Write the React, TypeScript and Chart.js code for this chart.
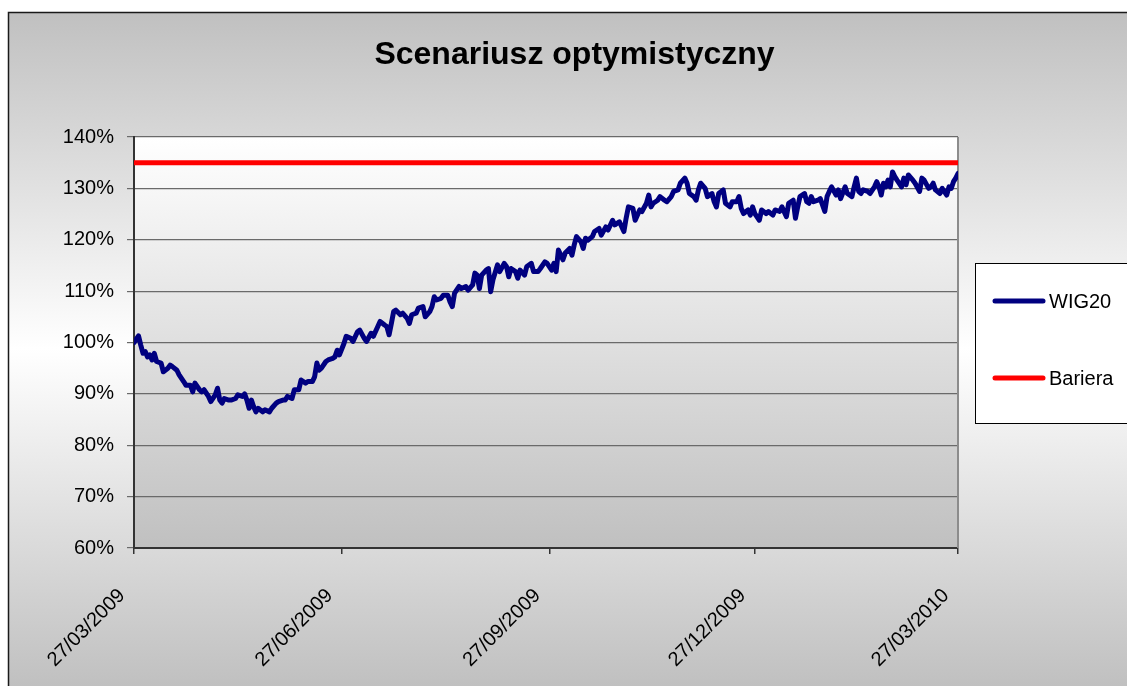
import React, { useEffect, useRef } from 'react';
import { Chart, registerables } from 'chart.js';

Chart.register(...registerables);

const TITLE = 'Scenariusz optymistyczny';
const seriesNames = ['WIG20', 'Bariera'];
const seriesColors = ['#000080', '#FF0000'];

// x = days since 27/03/2009
const tickDays = [0, 92, 184, 275, 365];
const tickLabels = ['27/03/2009', '27/06/2009', '27/09/2009', '27/12/2009', '27/03/2010'];

const yMin = 60;
const yMax = 140;
const yStep = 10;

// WIG20 [day, % of start]
const wigSpring: number[][] = [
  [0, 100.0], [2, 101.3], [3, 99.5], [4, 97.9], [5, 98.2], [6, 97.2], [7, 97.6], [8, 96.6], [9, 97.9], [10, 96.3],
  [12, 96.0], [13, 94.3], [15, 95.0], [16, 95.6], [17, 95.3], [19, 94.6], [20, 93.7], [22, 92.4], [23, 91.7], [25, 91.7],
  [26, 90.4], [27, 92.1], [29, 90.8], [30, 90.4], [31, 90.8], [33, 89.5], [34, 88.5], [36, 89.8], [37, 91.1], [38, 88.8],
  [39, 88.2], [40, 89.1], [42, 88.8], [43, 88.8], [45, 89.1], [46, 89.8], [48, 89.5], [49, 90.0], [50, 88.8], [51, 87.2],
  [52, 88.8], [53, 87.5], [54, 86.5], [55, 87.2], [57, 86.5], [58, 86.9], [60, 86.5], [61, 87.2], [63, 88.2], [64, 88.5],
  [66, 88.8], [67, 88.8], [68, 89.5], [70, 89.1], [71, 90.8], [73, 90.8], [74, 92.7], [76, 92.1], [77, 92.4], [79, 92.4],
  [80, 93.3], [81, 96.0], [82, 94.6], [83, 95.0], [85, 96.3], [86, 96.6], [88, 96.9], [89, 97.2], [90, 98.5], [91, 97.6],
  [93, 99.8],
];
const wigSummer: number[][] = [
  [94, 101.2], [96, 100.8], [97, 100.2], [99, 102.1], [100, 102.4], [102, 100.8], [103, 100.2], [105, 101.8], [106, 101.2],
  [108, 103.1], [109, 104.1], [111, 103.4], [112, 103.1], [113, 101.5], [114, 103.7], [115, 106.0], [116, 106.3], [118, 105.4],
  [119, 105.7], [121, 104.7], [122, 103.7], [123, 105.4], [125, 105.7], [126, 106.7], [128, 107.0], [129, 105.0], [131, 106.0],
  [132, 107.0], [133, 108.9], [134, 108.3], [136, 108.6], [137, 109.2], [139, 109.2], [140, 107.9], [141, 107.0], [142, 109.6],
  [144, 110.9], [145, 110.5], [147, 110.9], [148, 110.2], [150, 111.2], [151, 113.5], [152, 113.1], [153, 110.5], [154, 113.1],
  [156, 114.1], [157, 114.4], [158, 109.9], [159, 112.2], [161, 115.1], [162, 113.8], [164, 115.4], [165, 114.8], [166, 112.8],
  [167, 114.4], [169, 113.8], [170, 112.5], [171, 114.1], [173, 113.1], [174, 114.8], [176, 115.4], [177, 113.8], [179, 113.8],
  [180, 114.4], [182, 115.7],
];
const wigAutumn: number[][] = [
  [183, 115.4], [185, 114.1], [186, 115.4], [187, 113.8], [188, 118.0], [190, 116.1], [191, 117.4], [193, 118.3], [194, 117.0],
  [195, 119.0], [196, 120.6], [198, 119.6], [199, 118.3], [200, 120.3], [201, 119.9], [203, 120.6], [204, 121.6], [206, 122.2],
  [207, 120.9], [209, 122.5], [210, 121.9], [212, 123.8], [213, 122.9], [215, 123.5], [217, 121.6], [218, 124.2], [219, 126.4],
  [221, 126.1], [222, 123.8], [224, 125.8], [225, 125.5], [227, 127.1], [228, 128.7], [229, 126.4], [230, 127.1], [232, 127.7],
  [233, 128.4], [235, 127.7], [236, 127.4], [238, 128.4], [239, 129.4], [241, 129.7], [242, 131.0], [244, 132.0], [245, 131.0],
  [246, 129.0], [248, 128.4], [249, 127.7], [250, 129.7], [251, 131.0], [253, 130.0], [254, 128.4], [256, 129.0], [257, 127.4],
  [258, 126.4], [259, 129.0], [261, 129.7], [262, 127.1], [264, 126.4], [265, 127.4], [267, 127.4], [268, 128.4], [269, 126.1],
  [270, 125.1], [272, 125.8], [273, 124.8],
];
const wigWinter: number[][] = [
  [274, 126.4], [275, 125.1], [277, 123.8], [278, 125.8], [280, 125.1], [281, 125.5], [283, 124.8], [284, 125.8], [286, 125.5],
  [287, 126.4], [289, 124.5], [290, 127.1], [292, 127.7], [293, 124.2], [294, 126.4], [295, 128.4], [297, 129.0], [298, 127.4],
  [299, 127.1], [300, 128.4], [301, 127.4], [303, 127.7], [304, 128.0], [306, 125.5], [307, 128.4], [308, 129.4], [309, 130.3],
  [311, 128.7], [312, 129.7], [313, 128.0], [315, 130.3], [316, 129.0], [318, 128.4], [319, 130.3], [320, 132.0], [321, 129.4],
  [322, 129.0], [323, 129.7], [325, 129.4], [326, 129.0], [328, 130.3], [329, 131.3], [330, 130.3], [331, 128.7], [332, 131.0],
  [333, 130.3], [334, 131.6], [335, 130.3], [336, 133.2], [337, 132.3], [338, 131.6], [340, 130.3], [341, 132.0], [342, 130.7],
  [343, 132.6], [345, 131.6], [346, 131.0], [348, 129.4], [349, 132.0], [350, 131.6], [352, 130.0], [353, 130.3], [354, 131.0],
  [355, 129.7], [357, 129.0], [358, 130.0], [360, 128.7], [361, 130.3], [362, 130.0], [363, 131.3], [364, 132.0], [365, 132.9],
];

const barrierDays = [0, 365];
const barrierValues = [135, 135];

const FONT = "'Liberation Sans', Arial, sans-serif";

const backgroundPlugin = {
  id: 'excelBackground',
  beforeDraw(chart: any) {
    const { ctx, width, height, chartArea: a } = chart;
    ctx.save();
    ctx.fillStyle = '#ffffff';
    ctx.fillRect(0, 0, width, height);
    const g = ctx.createLinearGradient(0, 12, 0, height);
    g.addColorStop(0, '#c0c0c0');
    g.addColorStop(0.5, '#ffffff');
    g.addColorStop(1, '#c0c0c0');
    ctx.fillStyle = g;
    ctx.fillRect(8, 12, width, height);
    ctx.strokeStyle = '#1a1a1a';
    ctx.lineWidth = 1.5;
    ctx.strokeRect(8.5, 12.5, width + 20, height + 20);
    const pg = ctx.createLinearGradient(0, a.top, 0, a.bottom);
    pg.addColorStop(0, '#ffffff');
    pg.addColorStop(1, '#c0c0c0');
    ctx.fillStyle = pg;
    ctx.fillRect(a.left, a.top, a.right - a.left, a.bottom - a.top);
    ctx.restore();
  },
  beforeDatasetsDraw(chart: any) {
    const { ctx, chartArea: a } = chart;
    ctx.save();
    ctx.strokeStyle = '#8c8c8c';
    ctx.lineWidth = 2;
    ctx.beginPath();
    ctx.moveTo(a.right, a.top);
    ctx.lineTo(a.right, a.bottom);
    ctx.stroke();
    ctx.restore();
  },
  afterDraw(chart: any) {
    const { ctx, width } = chart;
    const boxX = 975;
    const boxY = 263;
    const boxH = 160;
    ctx.save();
    ctx.fillStyle = '#ffffff';
    ctx.fillRect(boxX, boxY, width - boxX + 10, boxH);
    ctx.strokeStyle = '#000000';
    ctx.lineWidth = 1;
    ctx.strokeRect(boxX + 0.5, boxY + 0.5, width - boxX + 10, boxH);
    const rows = [301, 378];
    chart.data.datasets.forEach((ds: any, i: number) => {
      const y = rows[i];
      ctx.strokeStyle = ds.borderColor;
      ctx.lineWidth = 5;
      ctx.lineCap = 'round';
      ctx.beginPath();
      ctx.moveTo(995, y);
      ctx.lineTo(1043, y);
      ctx.stroke();
      ctx.fillStyle = '#000000';
      ctx.font = `20px ${FONT}`;
      ctx.textBaseline = 'middle';
      ctx.textAlign = 'left';
      ctx.fillText(ds.label, 1049, y + 1);
    });
    ctx.restore();
  },
};

export default function App() {
  const ref = useRef<HTMLCanvasElement | null>(null);

  useEffect(() => {
    if (!ref.current) return;
    const wig = [...wigSpring, ...wigSummer, ...wigAutumn, ...wigWinter].map(([d, v]) => ({ x: d, y: v }));
    const barrier = barrierDays.map((d, i) => ({ x: d, y: barrierValues[i] }));
    const chart = new Chart(ref.current, {
      type: 'line',
      data: {
        datasets: [
          {
            label: seriesNames[0],
            data: wig,
            borderColor: seriesColors[0],
            backgroundColor: seriesColors[0],
            borderWidth: 5,
            pointRadius: 0,
            tension: 0,
            borderJoinStyle: 'round',
            borderCapStyle: 'round',
          },
          {
            label: seriesNames[1],
            data: barrier,
            borderColor: seriesColors[1],
            backgroundColor: seriesColors[1],
            borderWidth: 5,
            pointRadius: 0,
            tension: 0,
            borderCapStyle: 'round',
          },
        ],
      },
      options: {
        responsive: false,
        animation: false,
        devicePixelRatio: 1,
        layout: { padding: { top: 36, left: 22, right: 0, bottom: 0 } },
        plugins: {
          legend: { display: false },
          tooltip: { enabled: false },
          title: {
            display: true,
            text: TITLE,
            color: '#000000',
            font: { family: FONT, size: 32, weight: 'bold' },
            padding: { top: 0, bottom: 62.6 },
          },
        },
        scales: {
          x: {
            type: 'linear',
            min: tickDays[0],
            max: tickDays[tickDays.length - 1],
            afterBuildTicks: (s: any) => {
              s.ticks = tickDays.map((v) => ({ value: v }));
            },
            afterFit: (s: any) => {
              s.height = 138;
            },
            grid: { drawOnChartArea: false, drawTicks: true, tickLength: 6, color: '#333333', lineWidth: 1.5 },
            border: { display: true, color: '#333333', width: 2 },
            ticks: {
              autoSkip: false,
              minRotation: 45,
              maxRotation: 45,
              padding: 30,
              labelOffset: -12,
              color: '#000000',
              font: { family: FONT, size: 20 },
              callback: (v: any) => {
                const i = tickDays.indexOf(Number(v));
                return i >= 0 ? tickLabels[i] : '';
              },
            },
          },
          y: {
            type: 'linear',
            position: 'left',
            min: yMin,
            max: yMax,
            afterFit: (s: any) => {
              s.width = 112;
            },
            grid: { color: '#6a6a6a', lineWidth: 1.2, drawTicks: true, tickLength: 7 },
            border: { display: true, color: '#333333', width: 2 },
            ticks: {
              stepSize: yStep,
              padding: 13,
              color: '#000000',
              font: { family: FONT, size: 20 },
              callback: (v: any) => `${v}%`,
            },
          },
          yRight: {
            type: 'linear',
            position: 'right',
            display: true,
            min: yMin,
            max: yMax,
            afterFit: (s: any) => {
              s.width = 169;
            },
            grid: { display: false, drawTicks: false },
            border: { display: false },
            ticks: { display: false },
          },
        },
      },
      plugins: [backgroundPlugin],
    } as any);
    return () => chart.destroy();
  }, []);

  return (
    <canvas
      ref={ref}
      width={1127}
      height={686}
      style={{ position: 'absolute', left: 0, top: 0, display: 'block', width: 1127, height: 686 }}
    />
  );
}
